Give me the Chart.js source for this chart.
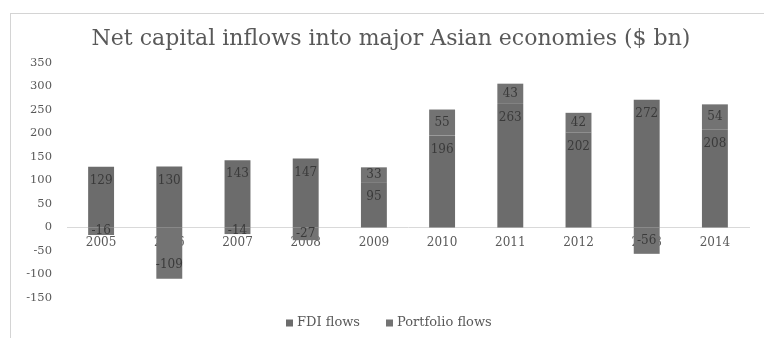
<!DOCTYPE html>
<html>
<head>
<meta charset="utf-8">
<script src="https://cdn.jsdelivr.net/npm/chart.js@4"></script>
<style>
    html, body { margin: 0; padding: 0; background: #ffffff; }
    #wrap { position: relative; width: 764px; height: 338px; overflow: hidden; }
    #frame {
        position: absolute; left: 10px; top: 13px; right: -2px; bottom: -2px;
        border-left: 1px solid #d4d4d4; border-top: 1px solid #d4d4d4;
        pointer-events: none;
    }
</style>
</head>
<body>
<div id="wrap">
    <canvas id="flowChart" width="764" height="338"></canvas>
    <div id="frame"></div>
</div>
<script>
// Net capital inflows, $ bn
const years = ["2005", "2006", "2007", "2008", "2009", "2010", "2011", "2012", "2013", "2014"];
const fdiFlows = [129, 130, 143, 147, 95, 196, 263, 202, 272, 208];
const portfolioFlows = [-16, -109, -14, -27, 33, 55, 43, 42, -56, 54];
const yTicks = [350, 300, 250, 200, 150, 100, 50, 0, -50, -100, -150];

const FONT = "'DejaVu Serif', 'Liberation Serif', serif";
const TEXT = "#595959";

// ===============================
// Value labels, placed at the inside end of each segment
// ===============================
const insideEndLabels = {
    id: "insideEndLabels",
    afterDatasetsDraw(chart) {
        const ctx = chart.ctx;
        ctx.save();
        ctx.font = "12px " + FONT;
        ctx.fillStyle = "#3a3a3a";
        ctx.textAlign = "center";
        ctx.textBaseline = "middle";
        chart.data.datasets.forEach((ds, i) => {
            chart.getDatasetMeta(i).data.forEach((bar, j) => {
                const v = ds.data[j];
                const h = Math.abs(bar.base - bar.y);
                const off = Math.min(14, h / 2);
                const y = v >= 0 ? bar.y + off : bar.y - off;
                ctx.fillText(String(v), bar.x, y);
            });
        });
        ctx.restore();
    }
};

// ===============================
// Bottom legend, spaced out like the original layout
// ===============================
const wideLegend = {
    id: "wideLegend",
    afterDraw(chart) {
        const ctx = chart.ctx;
        const y = 323;
        const starts = [286, 386];
        ctx.save();
        ctx.font = "13px " + FONT;
        ctx.textBaseline = "middle";
        ctx.textAlign = "left";
        chart.data.datasets.forEach((ds, i) => {
            ctx.fillStyle = ds.backgroundColor;
            ctx.fillRect(starts[i], y - 3.5, 7, 7);
            ctx.fillStyle = TEXT;
            ctx.fillText(ds.label, starts[i] + 11, y);
        });
        ctx.restore();
    }
};

new Chart(document.getElementById("flowChart"), {
    type: "bar",
    data: {
        labels: years,
        datasets: [{
            label: "FDI flows",
            data: fdiFlows,
            backgroundColor: "#6c6c6c",
            borderWidth: 0
        }, {
            label: "Portfolio flows",
            data: portfolioFlows,
            backgroundColor: "#737373",
            borderWidth: 0
        }]
    },
    options: {
        responsive: false,
        animation: false,
        layout: { padding: { left: 18, right: 0, top: 26, bottom: 40 } },
        datasets: {
            bar: { categoryPercentage: 1, barPercentage: 0.38 }
        },
        plugins: {
            tooltip: { enabled: false },
            legend: { display: false },
            title: {
                display: true,
                text: "Net capital inflows into major Asian economies ($ bn)",
                color: TEXT,
                font: { family: FONT, size: 22, weight: "normal" },
                padding: { top: 0, bottom: 10.6 }
            }
        },
        scales: {
            x: {
                stacked: true,
                position: { y: 0 },
                z: 1,
                grid: { display: false, drawTicks: false },
                border: { display: true, color: "#d9d9d9", width: 1 },
                ticks: {
                    color: TEXT,
                    font: { family: FONT, size: 12 },
                    padding: 8
                }
            },
            y: {
                stacked: true,
                min: -150,
                max: 350,
                afterFit(scale) { scale.width = 49; },
                afterBuildTicks(scale) { scale.ticks = yTicks.map(v => ({ value: v })); },
                grid: { display: false, drawTicks: false },
                border: { display: false },
                ticks: {
                    color: TEXT,
                    font: { family: FONT, size: 11.5 },
                    padding: 15
                }
            },
            // empty right-hand gutter
            yGap: {
                position: "right",
                min: -150,
                max: 350,
                afterFit(scale) { scale.width = 15; },
                grid: { display: false, drawTicks: false },
                border: { display: false },
                ticks: { display: false }
            }
        }
    },
    plugins: [insideEndLabels, wideLegend]
});
</script>
</body>
</html>
